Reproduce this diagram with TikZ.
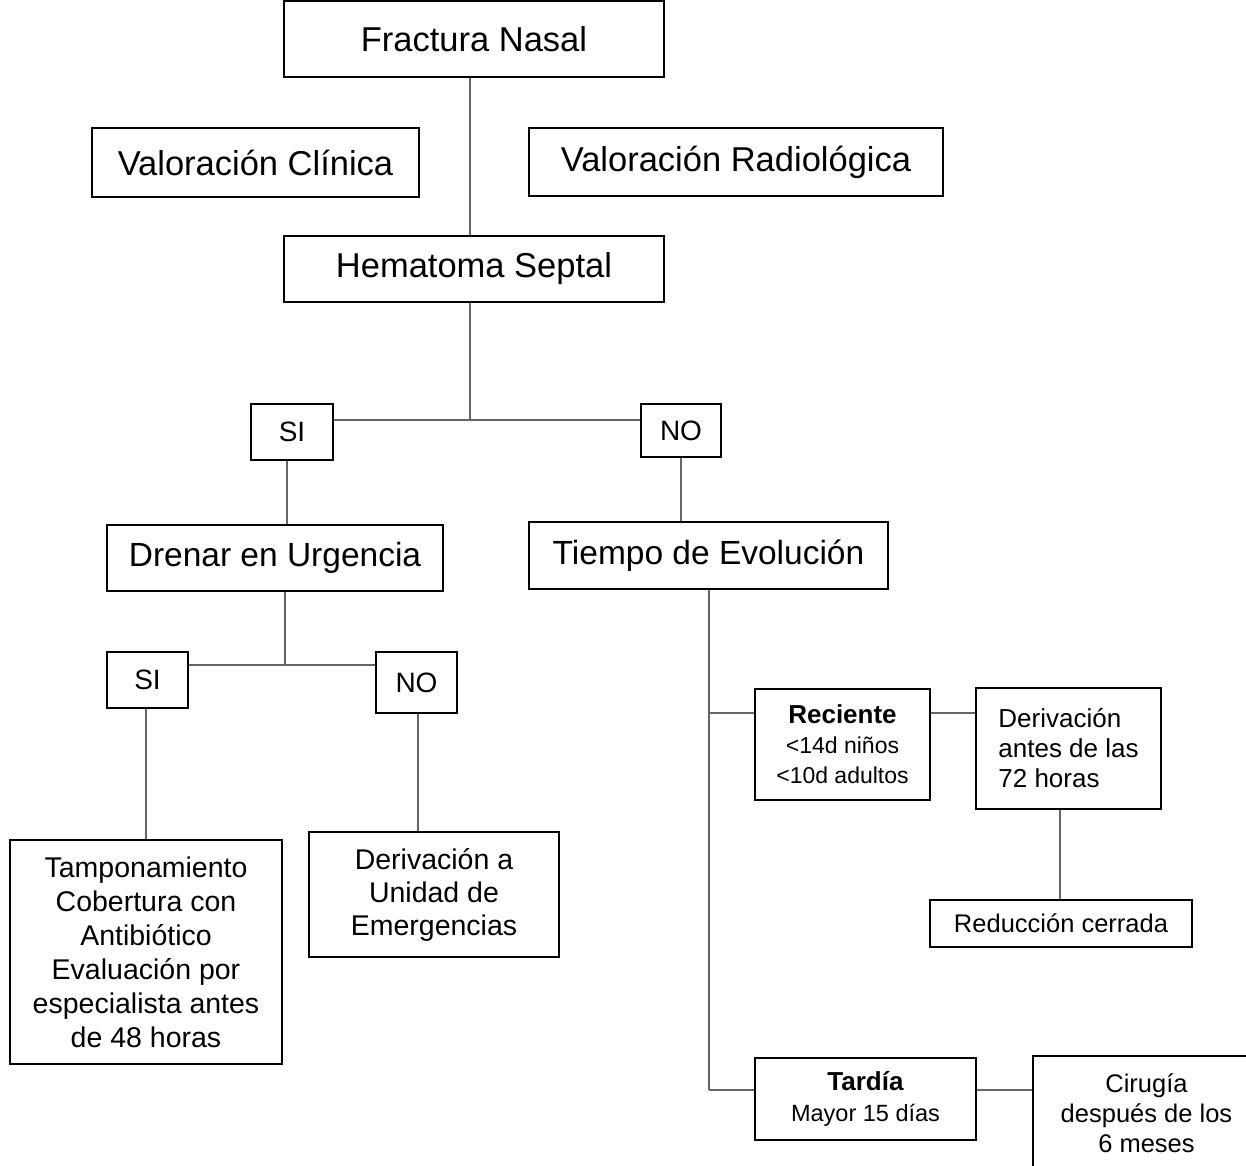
\documentclass[tikz,border=0pt]{standalone}
\usepackage{fontspec}
\setmainfont{Liberation Sans}
\usetikzlibrary{positioning}

\begin{document}
\begin{tikzpicture}[x=1pt, y=-1pt,
    caja/.style={draw, rectangle, line width=1.6pt, inner sep=0pt, align=center},
    enlace/.style={draw=black!60, line width=1.1pt},
    grande/.style={font=\fontsize{34.5}{40}\selectfont},
    media/.style={font=\fontsize{33.5}{40}\selectfont},
    resp/.style={font=\fontsize{28}{32}\selectfont}]
      \useasboundingbox (0,0) rectangle (1246,1165);

      % nivel superior
      \node[caja, grande, minimum width=380, minimum height=76] (fractura) at (474,39) {Fractura Nasal};
      \node[caja, grande, minimum width=327, minimum height=69] (clinica) at (255.5,162.5) {Valoración Clínica};
      \node[caja, grande, minimum width=414, minimum height=68] (radio) at (736,162) {Valoración Radiológica};
      \node[caja, grande, minimum width=380, minimum height=66] (hematoma) at (474,269) {Hematoma Septal};

      % primera pregunta
      \node[caja, resp, minimum width=82, minimum height=56] (si1) at (292,432) {SI};
      \node[caja, resp, minimum width=80, minimum height=53] (no1) at (681,430.5) {NO};
      \node[caja, media, minimum width=336, minimum height=66] (drenar) at (275,558) {Drenar en Urgencia};
      \node[caja, media, minimum width=359, minimum height=67] (tiempo) at (708.5,555.5) {Tiempo de Evolución};

      % rama SI
      \node[caja, resp, minimum width=81, minimum height=56] (si2) at (147.5,680) {SI};
      \node[caja, resp, minimum width=81, minimum height=61] (no2) at (416.5,682.5) {NO};
      \node[caja, font=\fontsize{28.5}{34}\selectfont, minimum width=272, minimum height=224] (tampon) at (146,952)
        {Tamponamiento\\Cobertura con\\Antibiótico\\Evaluación por\\especialista antes\\de 48 horas};
      \node[caja, font=\fontsize{28.5}{33}\selectfont, minimum width=250, minimum height=125] (urgencias) at (434,894.5)
        {Derivación a\\Unidad de\\Emergencias};

      % rama NO
      \node[caja, font=\fontsize{23}{30}\selectfont, minimum width=175, minimum height=111] (reciente) at (842.5,744.5)
        {{\fontsize{26}{30}\selectfont\bfseries Reciente}\\<14d niños\\<10d adultos};
      \node[caja, font=\fontsize{26}{30}\selectfont, align=left, minimum width=185, minimum height=121] (antes) at (1068.5,748.5)
        {Derivación\\antes de las\\72 horas};
      \node[caja, font=\fontsize{25.5}{30}\selectfont, minimum width=262, minimum height=47] (reduccion) at (1061,923.5) {Reducción cerrada};
      \node[caja, font=\fontsize{23.5}{31}\selectfont, minimum width=221, minimum height=82] (tardia) at (865.5,1099)
        {{\fontsize{26}{31}\selectfont\bfseries Tardía}\\Mayor 15 días};
      \node[caja, font=\fontsize{25.5}{30}\selectfont, minimum width=227, minimum height=114] (cirugia) at (1146.5,1113)
        {Cirugía\\después de los\\6 meses};

      % conexiones
      \coordinate (j1) at (470,420);
      \coordinate (j2) at (285,665);
      \coordinate (j3) at (709,713);
      \coordinate (j4) at (709,1090);
      \draw[enlace] (fractura.south -| j1) -- (hematoma.north -| j1);
      \draw[enlace] (hematoma.south -| j1) -- (j1);
      \draw[enlace] (j1 -| si1.east) -- (j1 -| no1.west);
      \draw[enlace] (si1.south -| 287,0) -- (drenar.north -| 287,0);
      \draw[enlace] (no1.south) -- (no1.south |- tiempo.north);
      \draw[enlace] (drenar.south -| j2) -- (j2);
      \draw[enlace] (j2 -| si2.east) -- (j2 -| no2.west);
      \draw[enlace] (si2.south -| tampon.north) -- (tampon.north);
      \draw[enlace] (no2.south -| 418,0) -- (urgencias.north -| 418,0);
      \draw[enlace] (tiempo.south -| j3) -- (j4);
      \draw[enlace] (j3) -- (j3 -| reciente.west);
      \draw[enlace] (j4) -- (j4 -| tardia.west);
      \draw[enlace] (j3 -| reciente.east) -- (j3 -| antes.west);
      \draw[enlace] (antes.south -| 1060,0) -- (reduccion.north -| 1060,0);
      \draw[enlace] (j4 -| tardia.east) -- (j4 -| cirugia.west);
\end{tikzpicture}
\end{document}
